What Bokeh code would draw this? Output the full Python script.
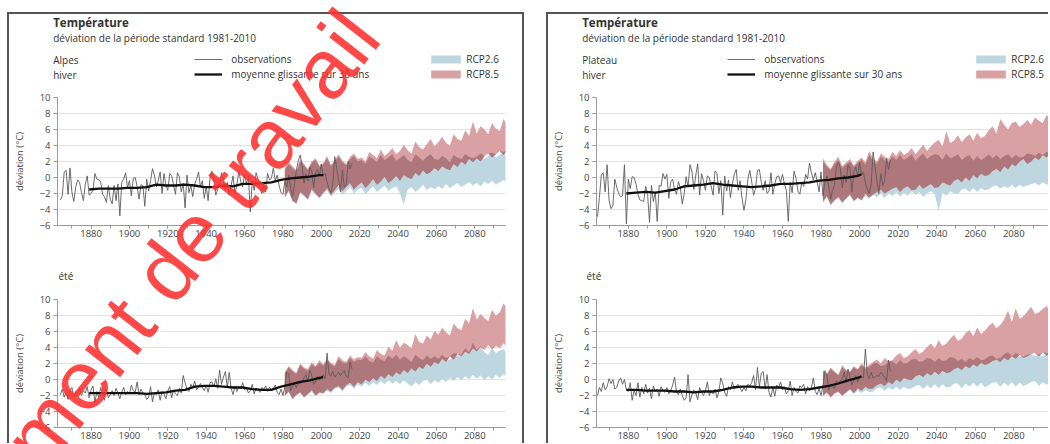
import numpy as np
from bokeh.plotting import figure
from bokeh.layouts import row, column
from bokeh.models import Range1d, FixedTicker, Label, Legend, LegendItem, Div
from bokeh.embed import file_html
from bokeh.resources import INLINE

# ---------------- data ----------------
OBS_YEARS = list(range(1864, 2017))
MEAN_YEARS = [1879, 1884, 1889, 1894, 1899, 1904, 1909, 1914, 1919, 1924, 1929, 1934, 1939,
              1944, 1949, 1954, 1959, 1964, 1969, 1974, 1979, 1984, 1989, 1994, 1999, 2001]
PROJ_YEARS = list(range(1981, 2100, 2))
Y_TICKS = [-6, -4, -2, 0, 2, 4, 6, 8, 10]
X_TICKS = [1880, 1900, 1920, 1940, 1960, 1980, 2000, 2020, 2040, 2060, 2080]
X_MINOR = [1870, 1880, 1890, 1900, 1910, 1920, 1930, 1940, 1950, 1960, 1970, 1980, 1990,
           2000, 2010, 2020, 2030, 2040, 2050, 2060, 2070, 2080, 2090]

# Alpes, hiver
AH_OBS = ([-2.8, -2.3, 0.7, 0.9, -2.1, 1.2] +
          [-1.8, -3.0, -1.2, -0.3, -0.6, -1.9, -2.9, -0.8, 0.2, -2.2] +
          [-2.0, -1.6, 0.5, -0.2, -0.3, -0.5, -2.1, -2.4, -3.1, -1.0] +
          [-2.7, -3.3, -1.0, -2.9, -0.8, -4.8, -0.6, -0.2, 0.6, -1.3] +
          [-0.4, -2.3, -0.1, 0.0, -1.1, -2.7, -0.9, -1.0, -3.6, -0.2] +
          [-1.7, -0.4, 1.1, 0.3, -1.2, -0.4, 0.7, -2.0, 0.5, -1.0] +
          [-1.6, 0.5, 0.2, -0.9, -2.1, 0.6, 0.1, -1.8, -0.7, -3.8] +
          [0.3, -1.9, -1.0, -2.4, -0.8, -0.2, 0.7, -1.2, -0.4, -2.6] +
          [-1.1, -2.9, -0.1, 0.8, -0.3, -2.2, -1.5, -0.7, 0.6, -0.3] +
          [-1.4, -0.6, -2.2, -1.0, 0.2, -2.0, -0.9, 0.8, -0.5, -1.2] +
          [0.4, -0.8, 0.2, -4.3, -0.4, -1.6, 0.6, -0.2, -1.4, -2.0] +
          [-0.7, -1.8, 0.5, -0.3, -0.1, 1.2, -0.4, 0.3, -1.0, -1.9] +
          [-2.1, -0.5, -1.2, 0.3, -1.3, -2.4, -0.8, 0.9, 2.1, 2.8] +
          [1.5, -0.7, 0.4, -0.4, 1.3, 0.8, -1.3, 0.6, 1.0, 0.2] +
          [1.7, 0.2, 0.5, -0.6, -1.4, -1.9, -0.8, 2.6, 1.2, -0.3] +
          [-1.8, 0.9, -1.2, -0.9, 2.0, 1.1, 1.8])
AH_MEAN = [-1.5, -1.4, -1.4, -1.4, -1.3, -1.3, -1.2, -0.9, -1.0, -1.0, -0.9, -1.0, -1.2,
           -1.2, -1.0, -1.1, -0.8, -0.8, -0.7, -0.6, -0.3, -0.1, 0.0, 0.1, 0.3, 0.3]
AH_R85_HI = [1.2, 1.9, 1.4, 0.9, 2.3, 1.7, 1.1, 2.0, 2.4, 1.5,
             1.8, 2.7, 1.6, 2.2, 2.9, 2.1, 1.7, 2.6, 3.0, 2.3,
             2.5, 2.0, 3.2, 2.8, 2.4, 3.5, 2.7, 3.1, 3.7, 2.9,
             3.3, 4.1, 3.4, 3.0, 4.5, 3.8, 3.5, 4.2, 4.8, 3.9,
             4.4, 5.1, 4.3, 4.0, 5.4, 4.8, 4.6, 5.9, 5.2, 7.0,
             5.5, 6.4, 6.0, 5.4, 6.8, 6.1, 5.8, 7.3, 6.5, 7.8]
AH_R85_LO = [-2.4, -1.6, -2.9, -3.3, -1.8, -2.2, -2.7, -1.4, -2.0, -2.5,
             -1.9, -1.3, -2.2, -1.6, -0.9, -1.7, -1.2, -0.7, -1.5, -1.0,
             -0.6, -1.3, -0.8, -0.2, -0.9, -0.5, 0.1, -0.7, -0.3, 0.2,
             -0.4, 0.3, 0.0, -0.2, 0.6, 0.2, 0.9, 0.4, 0.7, 1.2,
             0.8, 1.4, 1.1, 0.9, 1.7, 1.3, 2.0, 1.6, 2.3, 1.9,
             2.4, 2.0, 2.7, 3.0, 2.5, 2.9, 3.3, 2.8, 3.4, 3.3]
AH_R26_HI = [1.0, 1.7, 1.2, 0.7, 2.0, 1.5, 0.9, 1.8, 2.2, 1.3,
             1.6, 2.4, 1.4, 2.0, 2.6, 1.9, 1.5, 2.3, 2.7, 2.0,
             2.2, 1.7, 2.6, 2.3, 1.9, 2.8, 2.2, 2.5, 2.9, 2.1,
             2.4, 2.8, 2.2, 1.9, 2.9, 2.5, 2.1, 2.6, 2.9, 2.3,
             2.2, 2.7, 2.4, 1.9, 2.8, 2.5, 2.3, 2.9, 2.6, 2.4,
             2.6, 3.0, 2.3, 2.7, 3.1, 2.5, 2.8, 3.2, 2.6, 3.1]
AH_R26_LO = [-2.6, -1.8, -3.0, -3.2, -2.0, -2.4, -2.8, -1.7, -2.2, -2.6,
             -2.1, -1.6, -2.4, -1.9, -1.4, -2.2, -1.7, -1.2, -2.0, -1.5,
             -1.3, -2.1, -1.6, -1.1, -1.8, -1.4, -1.0, -1.7, -1.3, -1.1,
             -2.0, -3.4, -1.5, -1.2, -1.8, -1.4, -0.9, -1.6, -1.2, -1.5,
             -1.1, -1.4, -0.8, -1.3, -1.0, -0.7, -1.2, -0.9, -0.6, -1.0,
             -0.7, -1.1, -0.5, -0.8, -0.4, -0.9, -0.6, -0.3, -0.7, -0.4]

# Alpes, été
AE_OBS = ([-1.9, -1.2, -2.2, -1.6, -2.5, -1.4] +
          [-1.0, -2.2, -1.5, -1.8, -1.1, -2.0, -1.4, -1.7, -0.9, -2.3] +
          [-1.3, -0.8, -2.9, -1.5, -2.2, -1.0, -1.8, -2.6, -1.2, -2.3] +
          [-1.9, -1.4, -2.0, -1.1, -1.7, -2.4, -1.6, -1.0, -1.9, -1.5] +
          [-1.8, -0.7, -1.4, -1.6, -0.3, -1.9, -1.2, -1.7, -1.8, -2.5] +
          [-2.2, -0.9, -2.8, -1.6, -1.9, -1.3, -2.6, -1.5, -1.8, -2.4] +
          [-1.4, -0.9, -2.3, -1.3, -1.8, -2.0, -1.1, -1.7, 0.5, -0.4] +
          [-1.2, -1.5, -0.6, -1.0, -0.2, -1.3, -0.9, -0.5, -1.0, -1.4] +
          [-0.7, -1.6, -0.4, -0.3, -0.9, 0.1, -1.1, 1.2, -0.6, 0.3] +
          [1.0, -1.0, 0.9, -1.1, -1.9, -0.8, -1.5, -0.9, -1.2, -0.4] +
          [-1.3, -1.0, -1.7, -1.4, -0.6, -1.8, -1.1, -1.3, -1.6, -1.0] +
          [-1.2, -0.8, -1.5, -1.0, -1.3, -1.1, -0.7, -1.6, -1.9, -1.2] +
          [-2.0, -0.9, 0.9, 0.7, -1.4, -0.8, -0.6, -1.0, -0.4, -0.5] +
          [-0.3, 0.2, 0.6, -0.2, 1.2, 0.5, -0.6, -0.3, 0.4, -0.1] +
          [0.2, 0.6, 0.1, 3.3, 0.7, 0.4, 1.0, 0.3, 0.6, 0.9] +
          [0.5, 0.8, 1.1, 0.4, 0.2, 2.2, 1.3])
AE_MEAN = [-1.7, -1.7, -1.7, -1.7, -1.7, -1.7, -1.8, -1.7, -1.6, -1.4, -1.3, -0.9, -0.8,
           -0.8, -0.9, -1.0, -1.0, -1.2, -1.3, -1.3, -0.9, -0.6, -0.3, -0.1, 0.2, 0.3]
AE_R85_HI = [0.9, 1.7, 1.2, 0.8, 2.0, 1.5, 1.3, 2.2, 1.7, 2.4,
             1.9, 2.6, 2.1, 1.8, 2.9, 2.4, 2.2, 3.0, 2.5, 2.8,
             2.7, 3.4, 2.9, 2.6, 3.7, 3.2, 3.0, 4.1, 3.6, 4.9,
             4.0, 4.6, 4.3, 3.9, 5.7, 4.7, 4.5, 5.5, 5.0, 6.1,
             5.6, 6.5, 5.9, 5.5, 7.0, 6.4, 6.2, 7.6, 7.0, 8.9,
             7.5, 8.2, 7.7, 7.3, 8.7, 8.0, 8.4, 9.5, 8.8, 11.3]
AE_R85_LO = [-2.0, -1.5, -2.4, -1.9, -1.6, -2.2, -1.8, -1.3, -2.0, -1.6,
             -1.7, -1.2, -1.5, -1.0, -0.8, -1.3, -0.7, -0.4, -0.9, -0.3,
             -0.6, 0.0, -0.3, 0.2, -0.2, 0.5, 0.1, 0.7, 0.3, 0.9,
             0.6, 1.2, 0.8, 1.4, 1.0, 1.6, 1.3, 2.0, 1.6, 2.2,
             1.9, 2.6, 2.2, 2.9, 2.5, 3.2, 2.9, 3.5, 3.2, 3.9,
             3.5, 4.1, 3.7, 4.3, 3.8, 4.2, 3.9, 4.5, 4.0, 4.1]
AE_R26_HI = [0.8, 1.5, 1.0, 0.7, 1.8, 1.3, 1.1, 1.9, 1.5, 2.1,
             1.7, 2.3, 1.9, 1.6, 2.6, 2.1, 2.0, 2.7, 2.2, 2.5,
             2.4, 2.9, 2.3, 2.1, 2.9, 2.5, 2.3, 3.0, 2.6, 3.1,
             2.5, 2.9, 2.6, 2.2, 3.1, 2.7, 2.4, 3.0, 2.6, 2.9,
             2.6, 3.1, 2.7, 2.4, 3.3, 2.9, 3.1, 3.9, 3.4, 4.6,
             3.7, 4.2, 3.4, 3.1, 3.9, 3.3, 3.6, 3.8, 3.2, 3.6]
AE_R26_LO = [-2.1, -1.6, -2.5, -2.0, -1.7, -2.3, -1.9, -1.5, -2.1, -1.7,
             -1.8, -1.4, -1.7, -1.2, -1.0, -1.5, -0.9, -0.7, -1.2, -0.6,
             -0.9, -0.4, -0.8, -0.3, -0.7, -0.2, -0.6, -0.1, -0.5, -0.2,
             -0.6, -0.1, -0.5, -0.9, -0.3, -0.7, -0.2, 0.0, -0.6, -0.1,
             -0.4, 0.1, -0.3, 0.2, -0.2, 0.3, -0.1, 0.4, 0.0, 0.6,
             0.1, 0.5, -0.1, 0.4, 0.0, 0.6, 0.2, 0.7, 0.2, 0.6]

# Plateau, hiver
PH_OBS = ([-4.9, -2.5, 0.3, 0.6, -1.8, 1.6] +
          [-2.8, -3.9, -3.5, -0.2, -1.2, -2.0, -2.4, -2.3, 1.6, -5.8] +
          [-0.2, -1.4, 0.1, 0.0, -0.8, -2.1, -2.8, -2.9, -3.0, -1.1] +
          [-2.1, -5.6, -1.0, -3.0, -1.8, -5.5, -1.0, -1.1, 0.5, -0.2] +
          [0.4, -2.6, -0.6, -0.2, -1.5, -2.1, -0.5, -1.3, -3.3, -2.0] +
          [0.1, -1.2, 1.6, 0.8, -1.5, 0.3, 1.7, -2.2, 0.5, -0.4] +
          [-1.6, 0.2, 0.0, -1.1, -2.2, 0.8, 0.5, -2.0, -0.4, -4.7] +
          [0.2, -1.7, -0.3, -2.5, -0.8, 0.4, 1.0, -1.6, -0.4, -2.6] +
          [-4.1, -2.8, -0.3, 0.9, -0.5, -2.2, -1.4, 0.9, 1.0, -0.6] +
          [-1.6, -0.4, -2.0, -1.7, 0.6, -2.1, -0.8, 0.1, 0.2, -0.6] +
          [0.4, -0.8, -1.6, -5.5, -0.6, -1.9, 0.8, -0.1, -1.7, -2.1] +
          [-0.6, -1.1, 0.4, -0.2, 1.8, 0.6, -0.3, 0.6, -0.5, -1.8] +
          [0.7, -2.3, -0.6, 0.2, -1.2, -2.7, -1.5, -1.0, 1.4, 1.9] +
          [1.1, -1.3, 0.3, -0.6, 1.6, 1.2, -1.8, 0.7, 1.3, 0.1] +
          [1.9, 0.3, 0.7, -0.7, -1.4, -2.0, -0.9, 3.2, 1.3, -0.4] +
          [-2.0, 0.5, -1.0, -0.4, 2.4, 1.0, 2.2])
PH_MEAN = [-2.0, -1.9, -1.8, -1.9, -1.7, -1.5, -1.1, -1.0, -0.9, -0.7, -0.9, -1.0, -1.1,
           -1.2, -1.1, -1.0, -0.8, -0.8, -0.7, -0.6, -0.4, -0.3, -0.1, 0.0, 0.2, 0.4]
PH_R85_HI = [2.4, 1.6, 1.1, 2.0, 2.6, 1.4, 1.9, 2.3, 1.5, 2.1,
             2.5, 1.9, 3.3, 2.4, 2.0, 3.0, 2.6, 2.3, 3.2, 2.7,
             3.4, 2.8, 3.1, 3.7, 2.9, 3.5, 4.1, 3.3, 3.9, 4.4,
             4.7, 3.9, 5.8, 4.3, 4.6, 5.3, 4.4, 5.0, 5.4, 4.6,
             5.6, 4.9, 5.2, 5.9, 6.4, 5.5, 7.3, 6.6, 6.0, 6.8,
             7.0, 6.3, 6.7, 7.2, 6.6, 7.5, 7.1, 6.8, 7.8, 7.3]
PH_R85_LO = [-3.0, -2.3, -3.5, -2.8, -2.4, -3.2, -2.6, -2.1, -2.9, -2.5,
             -2.8, -2.0, -2.5, -2.2, -1.8, -1.5, -2.0, -1.7, -1.4, -1.2,
             -1.8, -1.3, -1.1, -1.6, -1.5, -0.9, -1.4, -1.1, -0.8, -1.3,
             -1.2, -0.6, -0.8, -1.0, -0.4, -0.2, -0.6, 0.0, -0.4, 0.3,
             -0.1, 0.5, 0.2, 0.3, 0.8, 1.1, 0.7, 1.4, 1.0, 1.7,
             1.4, 2.0, 2.3, 1.7, 2.0, 2.5, 2.2, 2.8, 2.5, 3.1]
PH_R26_HI = [2.0, 1.3, 0.9, 1.7, 2.2, 1.2, 1.6, 2.0, 1.3, 1.8,
             2.2, 1.6, 2.8, 2.0, 1.7, 2.6, 2.2, 1.9, 2.7, 2.2,
             2.8, 2.2, 2.5, 2.9, 2.1, 2.6, 3.0, 2.3, 2.7, 2.9,
             2.8, 2.2, 3.0, 2.4, 2.6, 2.9, 2.2, 2.6, 2.8, 2.1,
             2.7, 2.2, 2.5, 2.9, 2.4, 2.8, 2.3, 2.7, 2.9, 2.4,
             2.8, 2.5, 2.6, 3.0, 2.9, 2.7, 3.1, 2.8, 3.2, 2.9]
PH_R26_LO = [-3.2, -2.5, -3.3, -2.9, -2.6, -3.1, -2.7, -2.3, -3.0, -2.6,
             -2.9, -2.3, -2.7, -2.1, -2.5, -2.0, -2.6, -2.0, -2.3, -1.8,
             -2.4, -1.9, -2.3, -1.7, -2.2, -1.8, -2.4, -2.0, -1.7, -2.1,
             -4.2, -1.9, -2.3, -1.7, -2.0, -2.1, -1.5, -1.4, -1.8, -1.3,
             -1.8, -1.3, -1.6, -1.5, -1.1, -1.0, -1.4, -1.1, -1.3, -0.9,
             -1.3, -0.9, -1.2, -1.0, -0.8, -0.7, -1.0, -0.6, -0.9, -0.6]

# Plateau, été
PE_OBS = ([-2.0, -1.0, -1.5, -0.4, -1.3, -0.9] +
          [0.1, -0.5, 0.0, -1.2, -1.0, -0.2, 0.2, -0.6, 0.0, -1.3] +
          [-1.5, -0.4, -2.6, -1.3, -2.0, -0.4, -2.2, -1.0, -1.8, -0.6] +
          [-1.7, -1.1, -2.4, -0.8, -1.5, -1.2, -2.1, -0.9, -1.4, -1.6] +
          [-1.0, -1.8, -1.4, -0.7, 0.3, -1.5, -1.9, -1.2, -2.0, -2.6] +
          [-2.3, 0.6, -2.8, -1.9, -1.3, -1.7, -2.5, -1.0, -1.6, -2.0] +
          [-1.4, -0.3, -2.0, -1.5, -1.8, -1.2, -2.3, -1.5, 0.2, -0.5] +
          [-1.6, -2.1, -0.9, -1.3, -0.3, -1.2, -0.8, -0.6, -1.1, -1.5] +
          [-1.0, -1.4, -0.6, -0.8, -0.4, 0.5, -1.3, 1.5, -0.9, 0.8] +
          [1.0, -1.2, 0.6, -1.6, -2.2, -1.0, -2.1, -0.7, -1.0, -0.3] +
          [-1.3, -0.9, -1.8, -1.4, -0.2, -2.0, -1.0, -1.5, -1.7, -0.8] +
          [-1.0, -0.6, -1.8, -0.9, -1.4, -1.0, 0.2, -1.5, -1.9, -1.1] +
          [-2.0, -0.8, 1.1, 0.6, -1.3, -0.6, -0.9, -1.1, -0.2, -0.4] +
          [-0.2, 0.1, 0.9, -0.4, 1.3, 0.3, -0.7, -0.1, 0.5, -0.3] +
          [0.1, 0.4, 0.2, 3.8, 0.6, 0.1, 0.9, 0.2, 0.3, 0.5] +
          [0.4, 0.9, 0.6, 0.3, -0.2, 2.4, 1.0])
PE_MEAN = [-1.3, -1.3, -1.4, -1.4, -1.4, -1.5, -1.5, -1.6, -1.5, -1.5, -1.3, -1.0, -0.9,
           -0.9, -1.0, -1.0, -1.0, -1.2, -1.3, -1.2, -1.0, -0.8, -0.5, -0.1, 0.2, 0.4]
PE_R85_HI = [1.2, 0.7, 1.5, 1.0, 0.6, 1.8, 1.2, 1.0, 1.7, 1.3,
             2.0, 1.5, 1.8, 2.2, 2.5, 2.0, 2.7, 2.3, 2.4, 3.0,
             3.3, 2.7, 2.9, 3.4, 3.8, 3.2, 3.5, 4.1, 4.5, 3.9,
             4.9, 4.2, 4.5, 5.1, 5.6, 4.8, 5.1, 5.8, 6.2, 5.4,
             6.5, 5.7, 6.1, 6.7, 7.1, 6.4, 6.8, 7.5, 8.6, 7.2,
             8.9, 7.6, 7.9, 8.5, 9.1, 8.2, 8.4, 8.8, 9.2, 8.6]
PE_R85_LO = [-2.0, -1.6, -2.2, -1.7, -1.5, -2.0, -1.6, -1.2, -1.7, -1.1,
             -1.4, -0.9, -1.2, -1.1, -0.7, -0.5, -0.8, -0.3, -0.6, 0.0,
             -0.3, 0.2, 0.0, -0.1, 0.4, 0.6, 0.3, 0.8, 0.5, 1.0,
             0.6, 1.1, 0.8, 0.9, 1.3, 1.5, 1.2, 1.7, 1.4, 1.9,
             1.6, 2.1, 1.8, 2.0, 2.3, 2.5, 2.2, 2.7, 2.4, 2.9,
             2.6, 3.1, 2.7, 2.9, 3.2, 3.3, 2.9, 3.4, 3.0, 3.2]
PE_R26_HI = [1.0, 0.6, 1.3, 0.9, 0.5, 1.5, 1.1, 0.9, 1.5, 1.2,
             1.8, 1.3, 1.6, 2.0, 2.1, 1.7, 1.8, 2.2, 2.3, 1.9,
             2.4, 2.0, 2.1, 2.5, 2.6, 2.2, 2.3, 2.7, 2.6, 2.2,
             2.7, 2.3, 2.4, 2.8, 2.7, 2.3, 2.6, 2.2, 2.7, 2.4,
             2.8, 2.4, 2.5, 2.9, 3.0, 2.6, 2.7, 3.2, 3.4, 2.9,
             3.3, 2.9, 2.8, 3.1, 3.2, 2.9, 3.1, 2.9, 3.3, 3.0]
PE_R26_LO = [-2.1, -1.7, -2.3, -1.8, -1.6, -2.1, -1.7, -1.3, -1.8, -1.4,
             -1.7, -1.3, -1.6, -1.5, -1.1, -1.0, -1.4, -1.0, -1.3, -0.9,
             -1.3, -0.9, -1.2, -1.1, -0.8, -0.7, -1.2, -0.7, -1.1, -0.6,
             -1.1, -0.6, -1.0, -0.9, -0.5, -0.5, -1.1, -0.5, -0.9, -0.4,
             -0.9, -0.4, -1.0, -0.7, -0.4, -0.3, -0.9, -0.4, -0.8, -0.3,
             -0.9, -0.4, -0.8, -0.6, -0.3, -0.2, -0.8, -0.3, -0.7, -0.2]

# ---------------- style ----------------
FONT = "Open Sans"
TXT = "#333333"
AXC = "#9a9a9a"
C26 = "#bdd6e0"
C85 = "#d9a1a4"
COV = "#ae777c"
OBS_C = "#5c5c5c"
MEAN_C = "#111111"


def make_fig(width, height, ml, mr, mt, mb, xr, obs, mean, lo26, hi26, lo85, hi85):
    p = figure(width=width, height=height, x_range=Range1d(*xr), y_range=Range1d(-6, 10),
               output_backend="svg", toolbar_location=None,
               min_border_left=ml, min_border_right=mr, min_border_top=mt, min_border_bottom=mb)
    p.outline_line_color = None
    p.background_fill_color = "white"
    p.border_fill_color = "white"
    p.xgrid.visible = False
    p.ygrid.ticker = FixedTicker(ticks=Y_TICKS)
    p.ygrid.grid_line_color = "#e2e2e2"
    p.yaxis.ticker = FixedTicker(ticks=Y_TICKS)
    p.xaxis.ticker = FixedTicker(ticks=X_TICKS, minor_ticks=X_MINOR)
    for ax in (p.xaxis[0], p.yaxis[0]):
        ax.axis_line_color = AXC
        ax.major_tick_line_color = AXC
        ax.minor_tick_line_color = AXC
        ax.major_label_text_font = FONT
        ax.major_label_text_font_size = "9.5px"
        ax.major_label_text_color = "#444444"
        ax.major_tick_in = 0
        ax.minor_tick_in = 0
    p.xaxis.major_tick_out = 3
    p.xaxis.minor_tick_out = 3
    p.xaxis.major_label_standoff = 1
    p.yaxis.major_tick_out = 4
    p.yaxis.minor_tick_out = 0
    p.yaxis.major_label_standoff = 3
    p.yaxis.axis_label = "déviation (°C)"
    p.yaxis.axis_label_text_font = FONT
    p.yaxis.axis_label_text_font_size = "9.5px"
    p.yaxis.axis_label_text_font_style = "normal"
    p.yaxis.axis_label_text_color = "#444444"
    p.yaxis.axis_label_standoff = 11

    p.varea(x=PROJ_YEARS, y1=lo26, y2=hi26, fill_color=C26)
    p.varea(x=PROJ_YEARS, y1=lo85, y2=hi85, fill_color=C85)
    olo = np.maximum(np.array(lo26), np.array(lo85))
    ohi = np.minimum(np.array(hi26), np.array(hi85))
    p.varea(x=PROJ_YEARS, y1=olo, y2=np.maximum(ohi, olo), fill_color=COV)
    p.line(OBS_YEARS, obs, line_color=OBS_C, line_width=0.9)
    p.line(MEAN_YEARS, mean, line_color=MEAN_C, line_width=2.3)
    return p


def header_fig(width, hx, region, lx, sx):
    H = 70
    p = figure(width=width, height=H, x_range=Range1d(0, width), y_range=Range1d(H, 0),
               output_backend="svg", toolbar_location=None, min_border=0,
               min_border_left=0, min_border_right=0, min_border_top=0, min_border_bottom=0,
               x_axis_type=None, y_axis_type=None)
    try:
        p.frame_align = False
    except Exception:
        pass
    p.title.visible = False
    p.outline_line_color = None
    p.background_fill_color = "white"
    p.border_fill_color = "white"

    def lab(y, s, size="10px", bold=False):
        p.add_layout(Label(x=hx, y=y, text=s, text_font=FONT, text_font_size=size,
                           text_font_style="bold" if bold else "normal",
                           text_color=TXT, text_align="left", text_baseline="middle"))

    lab(7.7, "Température", size="11.5px", bold=True)
    lab(23.3, "déviation de la période standard 1981-2010")
    lab(45.3, region)
    lab(60.0, "hiver")

    # legend-only renderers (their single segment lies outside the visible range)
    ro = p.line(x=[-900, -800], y=[-900, -900], line_color=OBS_C, line_width=0.9)
    rm = p.line(x=[-900, -800], y=[-900, -900], line_color=MEAN_C, line_width=2.3)
    r26 = p.varea(x=[-900, -800], y1=[-900, -900], y2=[-800, -800], fill_color=C26)
    r85 = p.varea(x=[-900, -800], y1=[-900, -900], y2=[-800, -800], fill_color=C85)
    common = dict(orientation="vertical", glyph_height=10, label_height=15, spacing=0,
                  padding=0, margin=0, border_line_color=None, background_fill_alpha=0,
                  label_text_font=FONT, label_text_font_size="10px", label_text_color=TXT)
    leg1 = Legend(items=[LegendItem(label="observations", renderers=[ro]),
                         LegendItem(label="moyenne glissante sur 30 ans", renderers=[rm])],
                  location=(lx, 2.2), glyph_width=28, label_standoff=9, **common)
    leg2 = Legend(items=[LegendItem(label="RCP2.6", renderers=[r26]),
                         LegendItem(label="RCP8.5", renderers=[r85])],
                  location=(sx, 2.2), glyph_width=37, label_standoff=2, **common)
    p.add_layout(leg1)
    p.add_layout(leg2)
    return p


def season_title(p, offset):
    p.title.text = "été"
    p.title.align = "left"
    p.title.offset = offset
    p.title.standoff = 33
    p.title.text_font = FONT
    p.title.text_font_size = "10px"
    p.title.text_font_style = "normal"
    p.title.text_color = TXT


# ---------------- left panel (Alpes) ----------------
XL = (1862.5, 2096)
hl = header_fig(513, 43.7, "Alpes", 185.3, 418.3)
ftl = make_fig(513, 166, 43, 17, 13, 25, XL,
               AH_OBS, AH_MEAN, AH_R26_LO, AH_R26_HI, AH_R85_LO, AH_R85_HI)
fbl = make_fig(513, 193, 43, 17, 49, 16, XL,
               AE_OBS, AE_MEAN, AE_R26_LO, AE_R26_HI, AE_R85_LO, AE_R85_HI)
season_title(fbl, 1)

# ---------------- right panel (Plateau) ----------------
XR = (1863.5, 2098)
hr = header_fig(500, 33.7, "Plateau", 179.3, 424.3)
ftr = make_fig(500, 166, 44, 0, 13, 25, XR,
               PH_OBS, PH_MEAN, PH_R26_LO, PH_R26_HI, PH_R85_LO, PH_R85_HI)
fbr = make_fig(500, 193, 44, 0, 49, 16, XR,
               PE_OBS, PE_MEAN, PE_R26_LO, PE_R26_HI, PE_R85_LO, PE_R85_HI)
season_title(fbr, -10)

BORDER = "2px solid #555555"
left_col = column(hl, ftl, fbl, styles={"border-top": BORDER, "border-left": BORDER,
                                        "border-right": BORDER})
right_col = column(hr, ftr, fbr, styles={"border-top": BORDER, "border-left": BORDER})
main = row(left_col, right_col, spacing=22,
           styles={"margin-top": "12px", "margin-left": "7px"})

WM_HTML = ('<div style="position:absolute;left:126px;top:311px;'
           'transform:translate(-50%,-50%) rotate(-52deg);'
           "font-family:'Liberation Sans',Arial,sans-serif;font-size:84px;line-height:84px;"
           'color:#ff3030;opacity:0.88;white-space:nowrap;">Document de travail</div>')
wm = Div(text=WM_HTML, width=1040, height=444,
         styles={"position": "absolute", "left": "0px", "top": "0px", "z-index": "100",
                 "overflow": "hidden", "pointer-events": "none"})

page = column(main, wm)
open("out.html", "w").write(file_html(page, INLINE, title="Température"))
